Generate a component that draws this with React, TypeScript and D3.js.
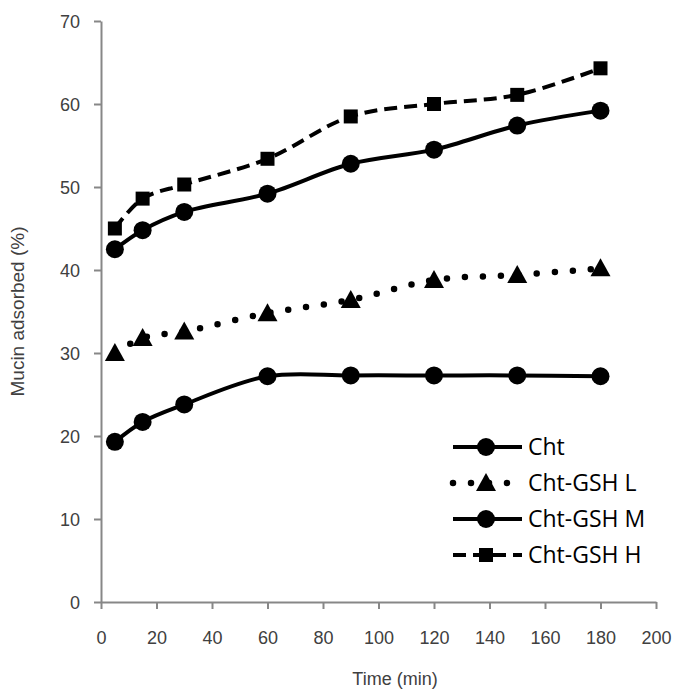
import React, { useEffect, useRef } from 'react';
import * as d3 from 'd3';

const times = [5, 15, 30, 60, 90, 120, 150, 180];
const cht = [19.3, 21.7, 23.8, 27.2, 27.3, 27.3, 27.3, 27.2];
const chtL = [30.0, 31.8, 32.6, 34.8, 36.4, 38.8, 39.4, 40.2];
const chtM = [42.5, 44.8, 47.0, 49.2, 52.8, 54.5, 57.4, 59.2];
const chtH = [45.0, 48.6, 50.3, 53.4, 58.5, 60.0, 61.1, 64.3];

const xTicks = [0, 20, 40, 60, 80, 100, 120, 140, 160, 180, 200];
const yTicks = [0, 10, 20, 30, 40, 50, 60, 70];

const series = [
    { name: 'Cht', values: cht, marker: 'circle', dash: 'solid' },
    { name: 'Cht-GSH L', values: chtL, marker: 'triangle', dash: 'dot' },
    { name: 'Cht-GSH M', values: chtM, marker: 'circle', dash: 'solid' },
    { name: 'Cht-GSH H', values: chtH, marker: 'square', dash: 'dash' },
];

const axisColor = '#878787';
const textColor = '#404040';
const axisFont = 'Liberation Sans, Arial, sans-serif';

function styleLine(sel: any, dash: string) {
    sel.attr('fill', 'none').attr('stroke', '#000');
    if (dash === 'dot') {
        sel.attr('stroke-width', 6.5).attr('stroke-dasharray', '0 18').attr('stroke-linecap', 'round');
    } else if (dash === 'dash') {
        sel.attr('stroke-width', 4).attr('stroke-dasharray', '13 7');
    } else {
        sel.attr('stroke-width', 4);
    }
}

function drawMarker(g: any, type: string, cx: number, cy: number) {
    if (type === 'circle') {
        g.append('circle').attr('cx', cx).attr('cy', cy).attr('r', 9).attr('fill', '#000');
    } else if (type === 'square') {
        g.append('rect').attr('x', cx - 7).attr('y', cy - 7).attr('width', 14).attr('height', 14).attr('fill', '#000');
    } else {
        g.append('path')
            .attr('d', `M${cx},${cy - 10}L${cx + 10},${cy + 8}L${cx - 10},${cy + 8}Z`)
            .attr('fill', '#000');
    }
}

export default function App() {
    const ref = useRef<SVGSVGElement>(null);

    useEffect(() => {
        const svg = d3.select(ref.current);
        svg.selectAll('*').remove();

        const x = d3.scaleLinear().domain([0, 200]).range([101, 656]);
        const y = d3.scaleLinear().domain([0, 70]).range([602, 21]);

        // axes
        const xAxis = svg.append('g')
            .attr('transform', `translate(0, ${y(0)})`)
            .call(d3.axisBottom(x).tickValues(xTicks).tickSize(7).tickPadding(22).tickSizeOuter(0));
        const yAxis = svg.append('g')
            .attr('transform', `translate(${x(0)}, 0)`)
            .call(d3.axisLeft(y).tickValues(yTicks).tickSize(7).tickPadding(14).tickSizeOuter(0));

        [xAxis, yAxis].forEach((a) => {
            a.select('.domain').attr('stroke', axisColor).attr('stroke-width', 2);
            a.selectAll('.tick line').attr('stroke', axisColor).attr('stroke-width', 2);
            a.selectAll('.tick text')
                .attr('fill', textColor)
                .style('font-family', axisFont)
                .style('font-size', '18px');
        });
        yAxis.selectAll('.tick text').attr('dy', '0.35em');

        svg.append('text')
            .attr('x', 395).attr('y', 685)
            .attr('text-anchor', 'middle')
            .attr('fill', textColor)
            .style('font-family', axisFont)
            .style('font-size', '18px')
            .text('Time (min)');

        svg.append('text')
            .attr('transform', `translate(24, ${(y(0) + y(70)) / 2}) rotate(-90)`)
            .attr('text-anchor', 'middle')
            .attr('fill', textColor)
            .style('font-family', axisFont)
            .style('font-size', '19px')
            .text('Mucin adsorbed (%)');

        const line = d3.line<number>()
            .x((d, i) => x(times[i]))
            .y((d) => y(d))
            .curve(d3.curveCatmullRom.alpha(0.5));

        series.forEach((s) => {
            const g = svg.append('g');
            styleLine(g.append('path').attr('d', line(s.values)), s.dash);
            s.values.forEach((v, i) => drawMarker(g, s.marker, x(times[i]), y(v)));
        });

        // legend
        const legend = svg.append('g');
        series.forEach((s, i) => {
            const ly = 447 + i * 36;
            const row = legend.append('g');
            styleLine(row.append('line').attr('x1', 453).attr('x2', 522).attr('y1', ly).attr('y2', ly), s.dash);
            drawMarker(row, s.marker, 486, ly);
            row.append('text')
                .attr('x', 528).attr('y', ly)
                .attr('dy', '0.36em')
                .attr('fill', '#000')
                .style('font-family', 'Open Sans, Noto Sans, sans-serif')
                .style('font-size', '23px')
                .text(s.name);
        });
    }, []);

    return (
        <svg ref={ref} width={680} height={690} style={{ position: 'absolute', left: 0, top: 0 }}></svg>
    );
}
